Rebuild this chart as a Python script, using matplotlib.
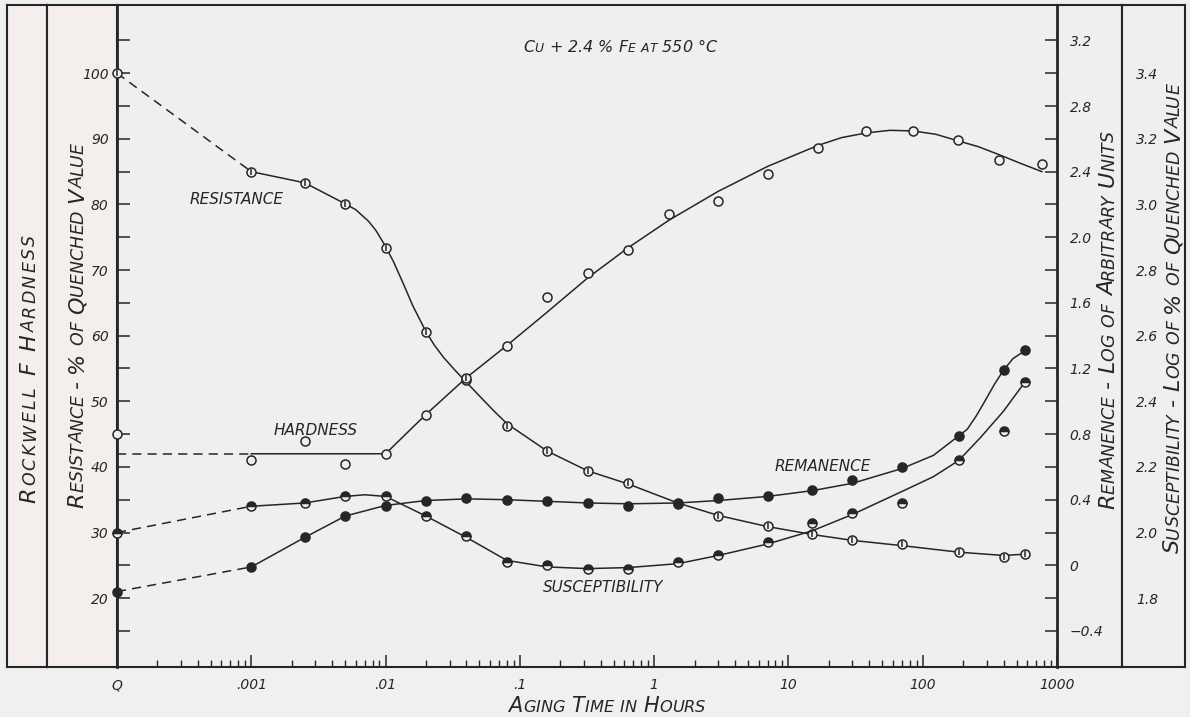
import numpy as np
import matplotlib
matplotlib.use('Agg')
import matplotlib.pyplot as plt
from matplotlib.font_manager import FontProperties
from matplotlib.transforms import ScaledTranslation
from matplotlib.ticker import LogLocator, NullFormatter

plt.rcParams['font.family'] = 'DejaVu Sans'
plt.rcParams['font.style'] = 'italic'

Q = 1e-4  # quenched state, plotted one decade left of .001 h

# Rockwell F hardness
hard_t = [Q, .001, .0025, .005, .01, .02, .04, .08, .16, .32, .64, 1.29, 3, 7, 16.6, 38, 85, 183, 369, 772]
hard_v = [45, 41, 44, 40.5, 42, 47.9, 53.3, 58.4, 65.9, 69.5, 73.0, 78.5, 80.6, 84.6, 88.6, 91.2, 91.2, 89.8, 86.7, 86.2]
hard_fit_t = [Q, .001, .01, .02, .04, .08, .16, .32, .64, 1.29, 3, 7, 16.6, 25, 38, 57, 85, 125, 183, 260, 369, 530, 772]
hard_fit_v = [42, 42, 42, 48.0, 53.6, 58.5, 63.6, 68.8, 73.4, 77.6, 82.0, 85.8, 89.0, 90.2, 90.9, 91.3, 91.2, 90.7, 89.7, 88.8, 87.6, 86.3, 85.0]

# resistance, % of quenched value
mag_t = [Q, .001, .0025, .005, .01, .02, .04, .08, .16, .32, .64, 1.5, 3, 7, 15, 30, 70, 186, 400, 580]
res_v = [100, 85, 83.2, 80.0, 73.4, 60.6, 53.6, 46.3, 42.4, 39.4, 37.6, 34.4, 32.5, 31.0, 29.7, 28.9, 28.2, 27.1, 26.2, 26.7]
res_fit_t = [Q, .001, .0025, .005, .006, .0075, .0085, .01, .0115, .0135, .016, .02, .023, .027, .033,
             .04, .048, .057, .065, .08, .16, .32, .64, 1.5, 3, 7, 15, 30, 70, 186, 400, 580]
res_fit_v = [100, 85, 83.3, 80.1, 79.2, 77.4, 76.0, 73.6, 71.2, 68.0, 64.5, 60.6, 58.6, 56.7, 54.7,
             52.9, 51.2, 49.6, 48.4, 46.6, 42.4, 39.4, 37.4, 34.5, 32.6, 30.9, 29.7, 28.8, 28.0, 27.0, 26.5, 26.7]

# remanence, log of arbitrary units
rem_v = [-0.16, -0.01, 0.17, 0.30, 0.36, 0.39, 0.41, 0.40, 0.39, 0.38, 0.36, 0.38, 0.41, 0.42, 0.46, 0.52, 0.60, 0.79, 1.19, 1.31]
rem_fit_t = [Q, .001, .0025, .005, .01, .02, .04, .08, .16, .32, .64, 1.5, 3, 7, 15, 30, 70, 120, 186, 215, 250, 290, 340, 400, 470, 580]
rem_fit_v = [-0.16, -0.01, 0.17, 0.30, 0.365, 0.395, 0.405, 0.40, 0.39, 0.38, 0.375, 0.38, 0.395, 0.42, 0.455, 0.50, 0.59, 0.67, 0.79, 0.83, 0.91, 1.00, 1.10, 1.19, 1.26, 1.31]

# susceptibility, log of % of quenched value
sus_v = [2.00, 2.08, 2.09, 2.11, 2.11, 2.05, 1.99, 1.91, 1.90, 1.89, 1.89, 1.91, 1.93, 1.97, 2.03, 2.06, 2.09, 2.22, 2.31, 2.46]
sus_fit_t = [Q, .001, .0025, .005, .007, .01, .02, .04, .08, .16, .32, .64, 1.5, 3, 7, 15, 30, 70, 120, 186, 270, 400, 580]
sus_fit_v = [2.0, 2.08, 2.09, 2.11, 2.115, 2.11, 2.05, 1.985, 1.915, 1.895, 1.89, 1.893, 1.905, 1.93, 1.965, 2.005, 2.055, 2.125, 2.17, 2.22, 2.29, 2.37, 2.46]

x_ticks = [Q, 1e-3, 1e-2, 1e-1, 1, 10, 100, 1000]
x_labels = ['Q', '.001', '.01', '.1', '1', '10', '100', '1000']
left_ticks = list(range(15, 110, 5))
rem_ticks = [-0.4, -0.2, 0, 0.2, 0.4, 0.6, 0.8, 1.0, 1.2, 1.4, 1.6, 1.8, 2.0, 2.2, 2.4, 2.6, 2.8, 3.0, 3.2]
sus_ticks = [1.8, 2.0, 2.2, 2.4, 2.6, 2.8, 3.0, 3.2, 3.4]

W, H = 1190, 717
INK = '#262626'
BG = '#efefef'
WARM = '#f4efec'

fig = plt.figure(figsize=(W / 100, H / 100), dpi=100, facecolor='#f0f0f0')


def box(x0, x1, y0=5, y1=667):
    return [x0 / W, 1 - y1 / H, (x1 - x0) / W, (y1 - y0) / H]


# label strips either side of the plot
for x0, x1, col in [(7, 47, WARM), (47, 117, WARM), (1057, 1122, BG), (1122, 1185, BG)]:
    s = fig.add_axes(box(x0, x1), facecolor=col)
    s.set_xticks([])
    s.set_yticks([])
    for sp in s.spines.values():
        sp.set_linewidth(1.5)
        sp.set_color(INK)

ax = fig.add_axes(box(117, 1057), facecolor=BG)
ax.set_xscale('log')
ax.set_xlim(Q, 1000)
L0, L1 = 9.5, 110.4
ax.set_ylim(L0, L1)
for side, sp in ax.spines.items():
    sp.set_color(INK)
    sp.set_linewidth(2.0 if side in ('left', 'right') else 1.5)

ax.set_xticks(x_ticks)
ax.set_xticklabels(x_labels)
ax.xaxis.set_minor_locator(LogLocator(base=10, subs=range(2, 10), numticks=20))
ax.xaxis.set_minor_formatter(NullFormatter())
ax.tick_params(axis='x', which='major', direction='in', length=9, width=1.1, pad=8,
               labelsize=10, colors=INK)
ax.tick_params(axis='x', which='minor', direction='in', length=5, width=1.0, color=INK)
ax.set_yticks(left_ticks)
ax.set_yticklabels([str(v) if v % 10 == 0 and 20 <= v <= 100 else '' for v in left_ticks])
ax.tick_params(axis='y', direction='in', length=9, width=1.1, pad=6, labelsize=10, colors=INK)

axr = ax.twinx()
axr.set_ylim((L0 - 25) / 25, (L1 - 25) / 25)
axr.set_yticks(rem_ticks)
axr.set_yticklabels([('0' if v == 0 else f'{v:.1f}'.replace('-', '\u2212'))
                     if round(v * 10) % 4 == 0 else '' for v in rem_ticks])
axr.tick_params(axis='y', direction='in', length=9, width=1.1, pad=9, labelsize=10, colors=INK)

axs = ax.twinx()
axs.spines['right'].set_position(('axes', (1122 - 117) / 940))
axs.set_ylim(2 + (L0 - 30) / 50, 2 + (L1 - 30) / 50)
axs.set_yticks(sus_ticks)
axs.set_yticklabels([f'{v:.1f}' for v in sus_ticks])
axs.tick_params(axis='y', length=0, pad=10, labelsize=10, colors=INK)
for a in (axr, axs):
    for sp in a.spines.values():
        sp.set_visible(False)

dash = (0, (6, 4))


def curve(a, fit_t, fit_v):
    a.plot(fit_t[:2], fit_v[:2], color=INK, lw=1.1, ls=dash, clip_on=False)
    a.plot(fit_t[1:], fit_v[1:], color=INK, lw=1.1, solid_joinstyle='round')


curve(ax, hard_fit_t, hard_fit_v)
curve(ax, res_fit_t, res_fit_v)
curve(axr, rem_fit_t, rem_fit_v)
curve(axs, sus_fit_t, sus_fit_v)

mk = dict(ls='none', marker='o', ms=6.5, mew=1.1, mec=INK, clip_on=False, zorder=4)
ax.plot(hard_t, hard_v, mfc=BG, **mk)
ax.plot(mag_t, res_v, mfc=BG, **mk)
ax.plot(mag_t, res_v, ls='none', marker='|', ms=5, mew=1.1, color=INK, clip_on=False, zorder=5)
axr.plot(mag_t, rem_v, mfc=INK, **mk)
axs.plot(mag_t, sus_v, fillstyle='top', mfc=INK, mfcalt=BG, **mk)

for label, t, v in [('RESISTANCE', 7.8e-4, 80.7), ('HARDNESS', 3.0e-3, 45.6),
                    ('REMANENCE', 18.1, 40.0), ('SUSCEPTIBILITY', 0.416, 21.6)]:
    ax.text(t, v, label, fontsize=11, color=INK, ha='center', va='center')

renderer = fig.canvas.get_renderer()


def smallcaps(x, y, s, size, rotation=0, small=0.78, track=0.0):
    # lettering in small capitals, centred on pixel (x, y) measured from the top left
    parts = []
    for ch in s:
        fp = FontProperties(family='DejaVu Sans', style='italic',
                            size=size * small if ch.islower() else size)
        w = (renderer.get_text_width_height_descent('I' + ch.upper() + 'I', fp, ismath=False)[0]
             - renderer.get_text_width_height_descent('II', fp, ismath=False)[0])
        parts.append((ch.upper(), fp, w + track))
    pos = -(sum(p[2] for p in parts) - track) / 2
    cap = 0.73 * size * fig.dpi / 72
    for txt, fp, w in parts:
        dx, dy = (cap / 2, pos) if rotation == 90 else (pos, -cap / 2)
        tr = fig.transFigure + ScaledTranslation(dx / fig.dpi, dy / fig.dpi, fig.dpi_scale_trans)
        fig.text(x / W, 1 - y / H, txt, fontproperties=fp, color=INK, rotation=rotation,
                 rotation_mode='anchor', ha='left', va='baseline', transform=tr)
        pos += w


smallcaps(620, 46, 'Cu + 2.4 % Fe at 550 \u00b0C', 11.5)
smallcaps(607, 704, 'Aging Time in Hours', 15)
smallcaps(27, 369, 'Rockwell F Hardness', 16, rotation=90, track=2.3)
smallcaps(75, 325, 'Resistance - % of Quenched Value', 16, rotation=90)
smallcaps(1106, 320, 'Remanence - Log of Arbitrary Units', 16, rotation=90)
smallcaps(1171, 318, 'Susceptibility - Log of % of Quenched Value', 16, rotation=90)

fig.savefig('out.png', dpi=100, facecolor=fig.get_facecolor())
